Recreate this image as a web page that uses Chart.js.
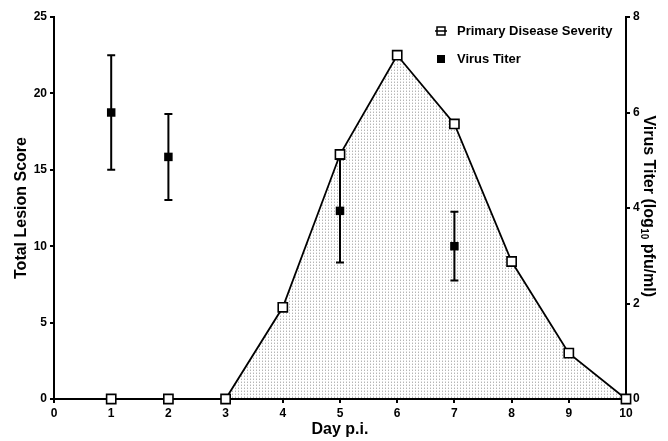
<!DOCTYPE html>
<html>
<head>
<meta charset="utf-8">
<script src="https://cdn.jsdelivr.net/npm/chart.js@4.4.1/dist/chart.umd.min.js"></script>
<style>
html,body{margin:0;padding:0;background:#fff;}
#wrap{width:668px;height:441px;position:relative;}
</style>
</head>
<body>
<div id="wrap"><canvas id="c" width="668" height="441"></canvas></div>
<script>
// ---- data ----
const days = [1, 2, 3, 4, 5, 6, 7, 8, 9, 10];
const severity = [0, 0, 0, 6, 16, 22.5, 18, 9, 3, 0];
const titerDays = [1, 2, 5, 7];
const titerMean = [6.0, 5.07, 3.94, 3.2];
const titerErr = [1.2, 0.9, 1.08, 0.72];
const xTicks = [0, 1, 2, 3, 4, 5, 6, 7, 8, 9, 10];
const leftTicks = [0, 5, 10, 15, 20, 25];
const rightTicks = [0, 2, 4, 6, 8];
const seriesNames = ['Primary Disease Severity', 'Virus Titer'];
const xTitle = 'Day p.i.';
const yTitle = 'Total Lesion Score';
const y2TitleParts = ['Virus Titer (log', '10', ' pfu/ml)'];

const FONT = '"Liberation Sans", Arial, sans-serif';

// stipple pattern
function makePattern() {
  const p = document.createElement('canvas');
  p.width = 3; p.height = 3;
  const g = p.getContext('2d');
  g.fillStyle = 'rgba(120,120,120,0.55)';
  g.fillRect(1, 1, 1, 1);
  g.fillStyle = 'rgba(160,160,160,0.35)';
  g.fillRect(1, 0, 1, 1);
  return document.getElementById('c').getContext('2d').createPattern(p, 'repeat');
}

const errorBars = {
  id: 'errorBars',
  beforeDatasetDraw(chart, args) {
    if (args.index !== 1) return;
    const ctx = chart.ctx, xs = chart.scales.x, ys = chart.scales.y2;
    ctx.save();
    ctx.strokeStyle = '#000';
    ctx.lineWidth = 2;
    titerDays.forEach((d, i) => {
      const x = xs.getPixelForValue(d);
      const yt = ys.getPixelForValue(titerMean[i] + titerErr[i]);
      const yb = ys.getPixelForValue(titerMean[i] - titerErr[i]);
      ctx.beginPath();
      ctx.moveTo(x, yt); ctx.lineTo(x, yb);
      ctx.moveTo(x - 4, yt); ctx.lineTo(x + 4, yt);
      ctx.moveTo(x - 4, yb); ctx.lineTo(x + 4, yb);
      ctx.stroke();
    });
    ctx.restore();
  }
};

const titlesAndLegend = {
  id: 'titlesAndLegend',
  afterDraw(chart) {
    const ctx = chart.ctx, a = chart.chartArea;
    ctx.save();
    ctx.fillStyle = '#000';
    ctx.font = 'bold 16px ' + FONT;
    ctx.textAlign = 'center';
    ctx.textBaseline = 'middle';
    // x title
    ctx.fillText(xTitle, (a.left + a.right) / 2, 430);
    // left title
    ctx.save();
    ctx.translate(22, (a.top + a.bottom) / 2);
    ctx.rotate(-Math.PI / 2);
    ctx.fillText(yTitle, 0, 0);
    ctx.restore();
    // right title (rotated clockwise) with subscript
    ctx.save();
    ctx.translate(648, (a.top + a.bottom) / 2 - 2);
    ctx.rotate(Math.PI / 2);
    ctx.textAlign = 'left';
    const f1 = 'bold 16px ' + FONT, f2 = 'bold 10px ' + FONT;
    ctx.font = f1; const w1 = ctx.measureText(y2TitleParts[0]).width;
    ctx.font = f2; const w2 = ctx.measureText(y2TitleParts[1]).width;
    ctx.font = f1; const w3 = ctx.measureText(y2TitleParts[2]).width;
    let x0 = -(w1 + w2 + w3) / 2;
    ctx.font = f1; ctx.fillText(y2TitleParts[0], x0, 0);
    ctx.font = f2; ctx.fillText(y2TitleParts[1], x0 + w1 + 0.5, 4);
    ctx.font = f1; ctx.fillText(y2TitleParts[2], x0 + w1 + w2 + 0.5, 0);
    ctx.restore();
    // legend
    ctx.font = 'bold 13px ' + FONT;
    ctx.textAlign = 'left';
    ctx.textBaseline = 'middle';
    const lx = 441, ly1 = 31, ly2 = 59;
    ctx.lineWidth = 1.5;
    ctx.strokeStyle = '#000';
    ctx.beginPath(); ctx.moveTo(lx - 6, ly1); ctx.lineTo(lx + 6, ly1); ctx.stroke();
    ctx.fillStyle = '#fff';
    ctx.fillRect(lx - 4, ly1 - 4, 8, 8);
    ctx.strokeRect(lx - 4, ly1 - 4, 8, 8);
    ctx.beginPath(); ctx.moveTo(lx - 4, ly1); ctx.lineTo(lx + 4, ly1); ctx.stroke();
    ctx.fillStyle = '#000';
    ctx.fillRect(lx - 4, ly2 - 4, 8, 8);
    ctx.fillText(seriesNames[0], 457, ly1);
    ctx.fillText(seriesNames[1], 457, ly2);
    ctx.restore();
  }
};

const tickFont = { family: FONT, size: 12, weight: 'bold' };
const axisCommon = {
  grid: { display: true, drawOnChartArea: false, drawTicks: true, tickLength: 4, color: '#000', lineWidth: 2 },
  border: { display: true, color: '#000', width: 2 },
  ticks: { color: '#000', font: tickFont, padding: 3 }
};

new Chart(document.getElementById('c'), {
  type: 'line',
  data: {
    datasets: [
      {
        label: seriesNames[0],
        data: days.map((d, i) => ({ x: d, y: severity[i] })),
        yAxisID: 'y',
        borderColor: '#000',
        borderWidth: 1.8,
        backgroundColor: makePattern(),
        fill: 'origin',
        pointStyle: 'rect',
        pointRadius: 6.5,
        pointBorderWidth: 1.6,
        pointBackgroundColor: '#fff',
        pointBorderColor: '#000',
        tension: 0,
        clip: false,
        order: 2
      },
      {
        label: seriesNames[1],
        data: titerDays.map((d, i) => ({ x: d, y: titerMean[i] })),
        yAxisID: 'y2',
        showLine: false,
        pointStyle: 'rect',
        pointRadius: 6,
        pointBorderWidth: 0,
        pointBackgroundColor: '#000',
        pointBorderColor: '#000',
        clip: false,
        order: 1
      }
    ]
  },
  options: {
    responsive: false,
    animation: false,
    devicePixelRatio: 1,
    layout: { padding: { top: 17, left: 0, right: 0, bottom: 0 } },
    plugins: { legend: { display: false }, tooltip: { enabled: false } },
    scales: {
      x: {
        type: 'linear', min: 0, max: 10,
        afterBuildTicks: s => { s.ticks = xTicks.map(v => ({ value: v })); },
        afterFit: s => { s.height = 42; },
        ...axisCommon
      },
      y: {
        type: 'linear', position: 'left', min: 0, max: 25,
        afterBuildTicks: s => { s.ticks = leftTicks.map(v => ({ value: v })); },
        afterFit: s => { s.width = 54; },
        ...axisCommon
      },
      y2: {
        type: 'linear', position: 'right', min: 0, max: 8,
        afterBuildTicks: s => { s.ticks = rightTicks.map(v => ({ value: v })); },
        afterFit: s => { s.width = 42; },
        ...axisCommon
      }
    }
  },
  plugins: [errorBars, titlesAndLegend]
});
</script>
</body>
</html>
